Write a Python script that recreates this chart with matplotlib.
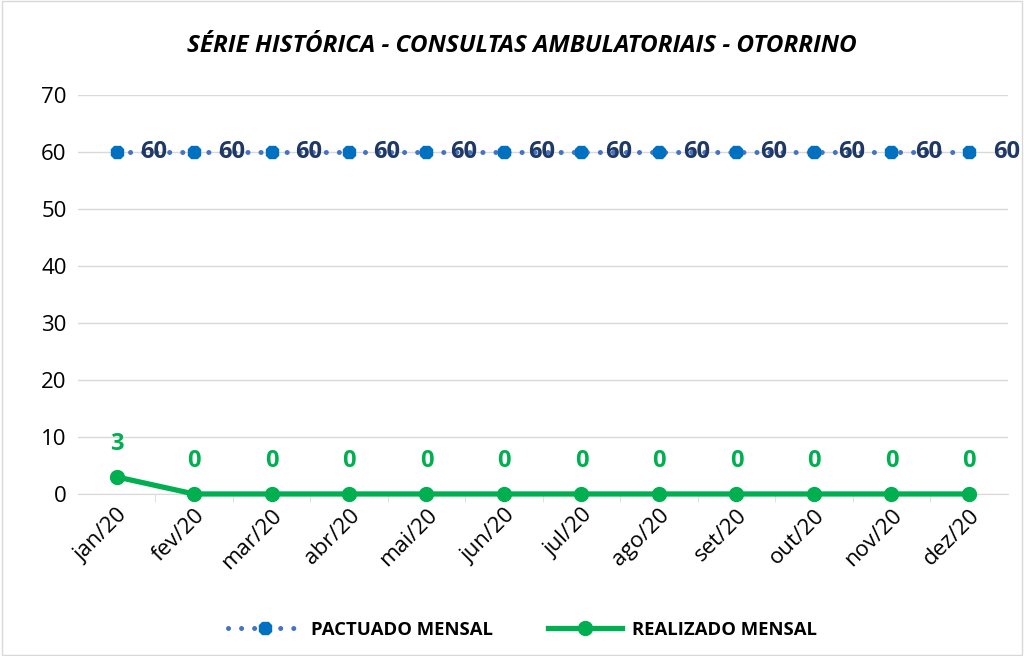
import matplotlib.pyplot as plt
from matplotlib.patches import Rectangle

plt.rcParams['font.family'] = ['Open Sans', 'DejaVu Sans']

#data
meses = ['jan/20', 'fev/20', 'mar/20', 'abr/20', 'mai/20', 'jun/20',
         'jul/20', 'ago/20', 'set/20', 'out/20', 'nov/20', 'dez/20']
pactuado = [60, 60, 60, 60, 60, 60, 60, 60, 60, 60, 60, 60]
realizado = [3, 0, 0, 0, 0, 0, 0, 0, 0, 0, 0, 0]

fig = plt.figure(figsize=(10.24, 6.56), dpi=100)
ax = fig.add_axes([0.076, 0.247, 0.908, 0.608])

x = list(range(len(meses)))

#lines
ax.plot(x, pactuado, linestyle=(0, (0.01, 2.6)), dash_capstyle='round', color='#4472C4',
        linewidth=3.6, marker='8', markersize=10, markerfacecolor='#0070C0',
        markeredgecolor='#0070C0', label='PACTUADO MENSAL', zorder=3)
ax.plot(x, realizado, color='#00B050', linewidth=3.8, marker='o', markersize=10,
        label='REALIZADO MENSAL', zorder=3, clip_on=False)

#labels
for i in x:
    ax.annotate(str(pactuado[i]), (i, pactuado[i]), xytext=(27, 0), textcoords='offset points',
                ha='center', va='center', fontsize=17, fontweight='bold', color='#1F3864', zorder=4)
    ax.annotate(str(realizado[i]), (i, realizado[i]), xytext=(0, 24), textcoords='offset points',
                ha='center', va='center', fontsize=17, fontweight='bold', color='#00B050')

ax.set_xlim(-0.5, len(meses) - 0.5)
ax.set_ylim(0, 70)
ax.set_yticks(range(0, 71, 10))
ax.set_xticks(x)
ax.set_xticklabels(meses, rotation=45, ha='right', rotation_mode='anchor', fontsize=16)
ax.tick_params(axis='y', labelsize=16, length=0, pad=8)
ax.tick_params(axis='x', length=0, pad=8)
ax.set_xticks([i + 0.5 for i in x[:-1]], minor=True)
ax.tick_params(axis='x', which='minor', length=6, color='#D9D9D9')
ax.grid(axis='y', color='#D9D9D9', linewidth=1)
ax.set_axisbelow(True)
for s in ['top', 'right', 'left']:
    ax.spines[s].set_visible(False)
ax.spines['bottom'].set_color('#D9D9D9')

fig.text(0.51, 0.93, 'SÉRIE HISTÓRICA - CONSULTAS AMBULATORIAIS - OTORRINO', ha='center', va='center',
         fontsize=17.5, fontweight='bold', style='italic')

fig.legend(loc='center', bbox_to_anchor=(0.51, 0.04), ncol=2, frameon=False,
           prop={'weight': 'bold', 'size': 13.3}, handlelength=4, handletextpad=0.5,
           columnspacing=3)

fig.patches.append(Rectangle((0.002, 0.002), 0.996, 0.996, transform=fig.transFigure,
                             fill=False, edgecolor='#D9D9D9', linewidth=1))

plt.savefig('out.png', dpi=100)
